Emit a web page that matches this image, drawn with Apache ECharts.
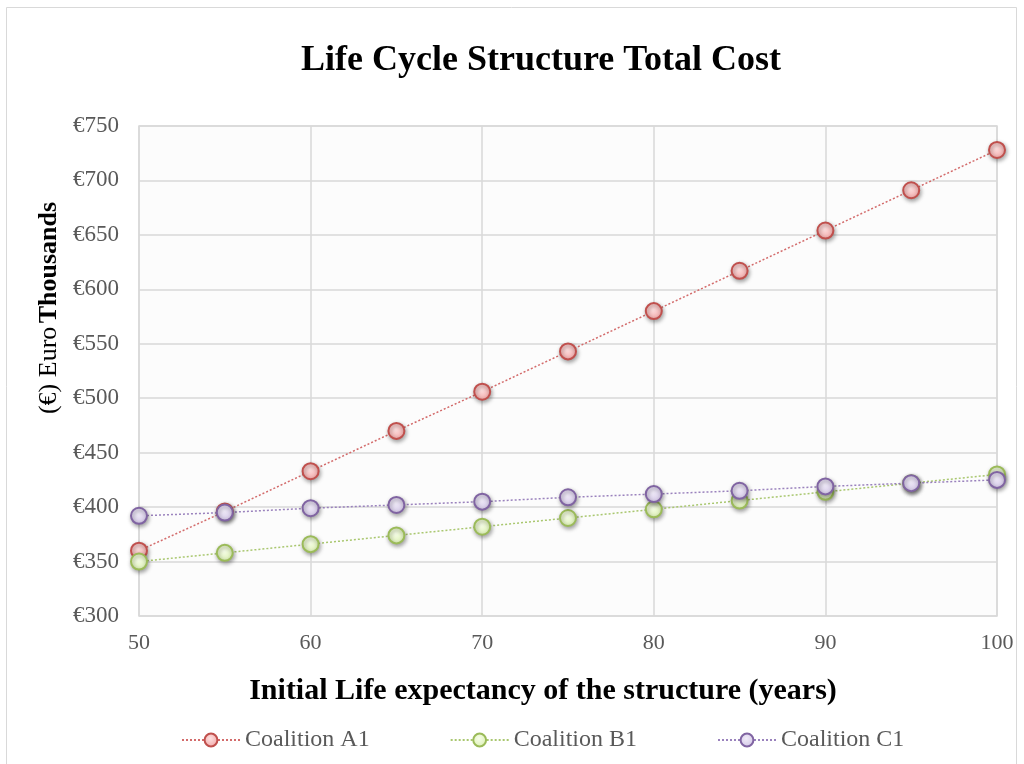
<!DOCTYPE html>
<html><head><meta charset="utf-8">
<script src="https://cdn.jsdelivr.net/npm/echarts@6/dist/echarts.min.js"></script>
<style>html,body{margin:0;padding:0;background:#fff}#c{width:1024px;height:764px}</style>
</head><body><div id="c"></div>
<script>
const years = [50, 55, 60, 65, 70, 75, 80, 85, 90, 95, 100];
const coalitionA1 = [360, 396, 433, 470, 506, 543, 580, 617, 654, 691, 728];
const coalitionB1 = [350, 358, 366, 374, 382, 390, 398, 406, 414, 422, 430];
const coalitionC1 = [392, 395, 399, 402, 405, 409, 412, 415, 419, 422, 425];
const seriesNames = ['Coalition A1', 'Coalition B1', 'Coalition C1'];

const FONT = '"Liberation Serif", "Times New Roman", serif';
const chart = echarts.init(document.getElementById('c'));

function mk(name, vals, border, fillIn, fillOut, line) {
  return {
    name, type: 'line',
    data: years.map((y, i) => [y, vals[i]]),
    symbol: 'circle', symbolSize: 16,
    lineStyle: { color: line, width: 1.5, type: [2, 2] },
    itemStyle: {
      color: { type: 'radial', x: 0.45, y: 0.4, r: 0.6, colorStops: [{ offset: 0, color: fillIn }, { offset: 1, color: fillOut }] },
      borderColor: border, borderWidth: 2,
      shadowBlur: 4, shadowColor: 'rgba(0,0,0,0.35)', shadowOffsetX: 1, shadowOffsetY: 2
    },
    emphasis: { disabled: true }
  };
}

chart.setOption({
  animation: false,
  backgroundColor: '#fff',
  graphic: [{
    type: 'rect', shape: { x: 6.5, y: 7.5, width: 1010, height: 800 },
    style: { fill: 'none', stroke: '#d9d9d9', lineWidth: 1 }, z: -1
  }],
  title: {
    text: 'Life Cycle Structure Total Cost', left: 296, top: 38,
    textStyle: { fontFamily: FONT, fontSize: 36, fontWeight: 'bold', color: '#000' }
  },
  legend: {
    data: seriesNames, bottom: 7, left: 176, itemGap: 80, itemWidth: 58, itemHeight: 16,
    textStyle: { fontFamily: FONT, fontSize: 24, color: '#595959' }
  },
  grid: { left: 139, top: 126, right: 27, bottom: 148, show: true, backgroundColor: '#fcfcfc', borderColor: '#d9d9d9', borderWidth: 1.5 },
  xAxis: {
    type: 'value', min: 50, max: 100, interval: 10,
    name: 'Initial Life expectancy of the structure (years)', nameLocation: 'middle', nameGap: 60,
    nameTextStyle: { fontFamily: FONT, fontSize: 30, fontWeight: 'bold', color: '#000', padding: [0, 50, 0, 0] },
    axisLine: { show: false }, axisTick: { show: false },
    axisLabel: { fontFamily: FONT, fontSize: 22, color: '#595959', margin: 16 },
    splitLine: { show: true, lineStyle: { color: '#d9d9d9', width: 1.5 } }
  },
  yAxis: {
    type: 'value', min: 300, max: 750, interval: 50,
    name: '{n|(€) Euro} {b|Thousands}', nameLocation: 'middle', nameGap: 77, nameRotate: 90,
    nameTextStyle: { padding: [0, 0, 0, 126], rich: {
      n: { fontFamily: FONT, fontSize: 26, color: '#000' },
      b: { fontFamily: FONT, fontSize: 26, fontWeight: 'bold', color: '#000' }
    } },
    axisLine: { show: false }, axisTick: { show: false },
    axisLabel: { fontFamily: FONT, fontSize: 23, color: '#595959', margin: 20, formatter: v => '€' + v },
    splitLine: { show: true, lineStyle: { color: '#d9d9d9', width: 1.5 } }
  },
  series: [
    mk(seriesNames[0], coalitionA1, '#c0504d', '#fde0e0', '#f2a8a8', '#d36b6b'),
    mk(seriesNames[1], coalitionB1, '#9bbb59', '#f6fde8', '#dcf0b4', '#a9c76f'),
    mk(seriesNames[2], coalitionC1, '#8064a2', '#f0ebf8', '#d2c6e6', '#9a82bd')
  ]
});
</script></body></html>
